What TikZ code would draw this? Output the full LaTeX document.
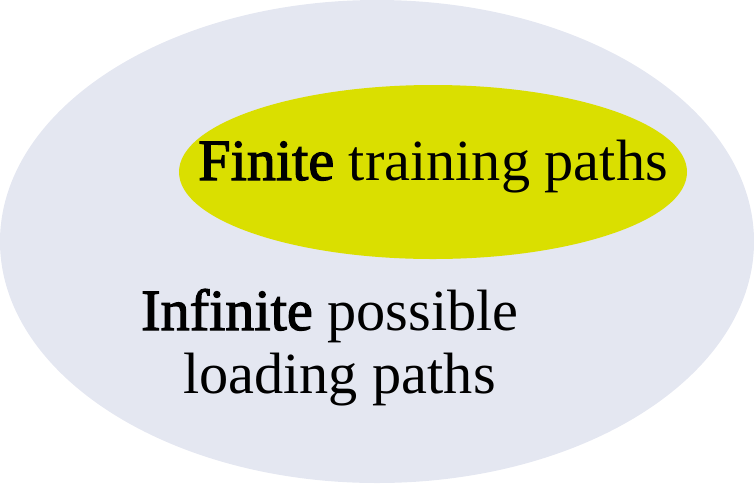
\documentclass[tikz,border=0pt]{standalone}
\usepackage{fontspec}
\setmainfont{Liberation Serif}[BoldFont=Liberation Serif,BoldFeatures={FakeBold=2}]
\definecolor{outerc}{HTML}{E4E7F1}
\definecolor{innerc}{HTML}{DADF00}
\begin{document}
\begin{tikzpicture}[x=1pt,y=-1pt,
  lbl/.style={inner sep=0pt,anchor=base west,font=\fontsize{58.3}{63}\selectfont}]
\useasboundingbox (0,0) rectangle (754,483);
\fill[outerc] (377,241.5) ellipse [x radius=377, y radius=241.5];
\fill[innerc] (433,172) ellipse [x radius=254, y radius=87];
\node[lbl] (fin) at (198,180) {\textbf{Finite} training paths};
\node[lbl] (inf1) at (141,330) {\textbf{Infinite} possible};
\node[lbl] (inf2) at (183,393) {loading paths};
\end{tikzpicture}
\end{document}
